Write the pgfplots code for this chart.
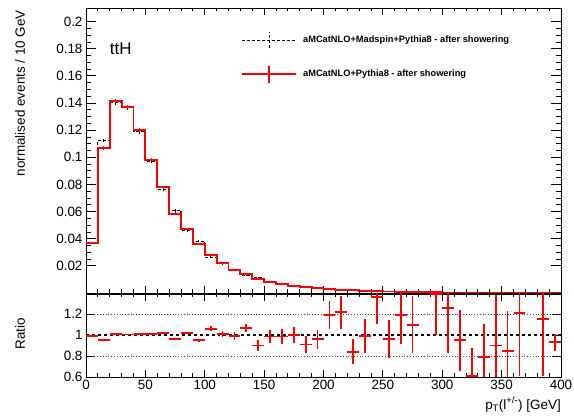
\documentclass[border=0pt]{standalone}
\usepackage{fontspec}
\setmainfont{Liberation Sans}
\usepackage{pgfplots}
\usepackage{pgfplotstable}
\pgfplotsset{compat=1.18}

\pgfplotstableread{
edge red black
0 0.0366 0.0370
10 0.1070 0.1124
20 0.1416 0.1402
30 0.1372 0.1365
40 0.1200 0.1188
50 0.0982 0.0972
60 0.0780 0.0765
70 0.0584 0.0608
80 0.0471 0.0462
90 0.0363 0.0382
100 0.0280 0.0264
110 0.0219 0.0217
120 0.0172 0.0174
130 0.0138 0.0130
140 0.0103 0.0114
150 0.0083 0.0084
160 0.0064 0.0065
170 0.0054 0.0054
180 0.0044 0.0048
190 0.0035 0.0036
200 0.0029 0.0024
210 0.0024 0.0020
220 0.0020 0.0024
230 0.0016 0.0016
240 0.0013 0.00095
250 0.0011 0.00115
260 0.0009 0.00076
270 0.0008 0.00073
280 0.0006 0.0006
290 0.0005 0.00036
300 0.0004 0.00032
310 0.00035 0.00037
320 0.0003 0.00049
330 0.00025 0.00032
340 0.0002 0.00022
350 0.00018 0.00021
360 0.00015 0.00012
370 0.00013 0.00013
380 0.00011 0.000095
390 0.0001 0.000108
400 0.0001 0.000108
}\hist

\pgfplotstableread{
c red rerr black berr
5 0.0366 0.0008 0.0370 0.0008
15 0.1070 0.0013 0.1124 0.0013
25 0.1416 0.0015 0.1402 0.0015
35 0.1372 0.0015 0.1365 0.0015
45 0.1200 0.0014 0.1188 0.0014
55 0.0982 0.0013 0.0972 0.0013
65 0.0780 0.0011 0.0765 0.0011
75 0.0584 0.0010 0.0608 0.0010
85 0.0471 0.0009 0.0462 0.0009
95 0.0363 0.0008 0.0382 0.0008
105 0.0280 0.0007 0.0264 0.0007
115 0.0219 0.0006 0.0217 0.0006
125 0.0172 0.0006 0.0174 0.0006
135 0.0138 0.0005 0.0130 0.0005
145 0.0103 0.0005 0.0114 0.0005
155 0.0083 0.0004 0.0084 0.0004
}\pts

\pgfplotstableread{
c ratio err
5 0.990 0.012
15 0.952 0.010
25 1.010 0.008
35 1.005 0.008
45 1.010 0.008
55 1.010 0.010
65 1.020 0.010
75 0.960 0.012
85 1.020 0.013
95 0.950 0.015
105 1.060 0.025
115 1.010 0.030
125 0.990 0.035
135 1.065 0.040
145 0.900 0.055
155 0.985 0.065
165 0.985 0.070
175 1.000 0.080
185 0.910 0.080
195 0.960 0.090
205 1.190 0.130
215 1.215 0.155
225 0.840 0.120
235 0.990 0.165
245 1.365 0.260
255 0.960 0.180
265 1.190 0.280
275 1.097 0.270
295 1.387 0.390
305 1.254 0.430
315 0.950 0.290
325 0.610 0.270
335 0.790 0.310
345 0.900 0.480
355 0.850 0.380
365 1.210 0.600
385 1.155 0.550
395 0.930 0.080
}\ratio

\pgfplotsset{
  legblack/.style={legend image code/.code={
    \draw[black, densely dashed, line width=1.1bp] (0bp,0bp) -- (54bp,0bp);
    \draw[black, densely dashed, line width=1.1bp] (27bp,-8bp) -- (27bp,8bp);
    \path[draw=none] (0bp,0bp) -- (59bp,0bp);}},
  legred/.style={legend image code/.code={
    \draw[red, line width=1.8bp] (0bp,0bp) -- (54bp,0bp);
    \draw[red, line width=1.8bp] (27bp,-8.5bp) -- (27bp,8.5bp);
    \path[draw=none] (0bp,0bp) -- (59bp,0bp);}},
}

\begin{document}
\begin{tikzpicture}
\path[use as bounding box] (0bp,0bp) rectangle (574bp,416bp);
\pgfplotsset{
  every axis/.append style={
    scale only axis, width=475bp, anchor=south west,
    xmin=0, xmax=400,
    axis line style={line width=0.9bp},
    every tick/.style={black, line width=0.8bp},
    major tick length=10bp, minor tick length=5bp,
    xtick style={/pgfplots/major tick length=7bp, /pgfplots/minor tick length=3.5bp},
    tick label style={font=\fontsize{13.5}{15}\selectfont},
    label style={font=\fontsize{13.5}{15}\selectfont, inner sep=0pt},
    /pgf/number format/assume math mode=true,
    xtick={0,50,...,400}, minor x tick num=4,
    clip=true,
  }
}
\begin{axis}[
  at={(86bp,123bp)}, height=285bp,
  ymin=0, ymax=0.21,
  ytick={0.02,0.04,0.06,0.08,0.1,0.12,0.14,0.16,0.18,0.2},
  yticklabels={0.02,0.04,0.06,0.08,0.1,0.12,0.14,0.16,0.18,0.2},
  minor y tick num=3,
  xticklabels={},
  ylabel={normalised events / 10 GeV},
  ylabel style={at={(axis description cs:-0.128,0.993)}, anchor=south east},
  legend style={at={(axis description cs:0.3265,0.918)}, anchor=north west, draw=none, fill=none,
    font=\bfseries\fontsize{9.3}{10}\selectfont, row sep=16bp, inner sep=0pt},
  legend cell align=left,
]
\addlegendimage{legblack}
\addlegendentry{aMCatNLO+Madspin+Pythia8 - after showering}
\addlegendimage{legred}
\addlegendentry{aMCatNLO+Pythia8 - after showering}

\addplot[black, densely dashed, line width=1.1bp, const plot, forget plot] table[x=edge, y=black] {\hist};
\addplot[black, line width=0.7bp, draw=none, mark=none, forget plot,
  error bars/y dir=both, error bars/y explicit, error bars/error mark=none,
  error bars/error bar style={black, solid, line width=0.7bp}] table[x=c, y=black, y error=berr] {\pts};
\addplot[red, line width=1.9bp, const plot, forget plot] table[x=edge, y=red] {\hist};
\addplot[red, line width=1.0bp, draw=none, mark=none, forget plot,
  error bars/y dir=both, error bars/y explicit, error bars/error mark=none,
  error bars/error bar style={red, solid, line width=1.0bp}] table[x=c, y=red, y error=rerr] {\pts};
\node[anchor=west, inner sep=0pt, font=\fontsize{17}{19}\selectfont] at (rel axis cs:0.05,0.856) {ttH};
\end{axis}

\begin{axis}[
  at={(86bp,39bp)}, height=83bp,
  ymin=0.6, ymax=1.39,
  ytick={0.6,0.8,1,1.2},
  yticklabels={0.6,0.8,1,1.2},
  ytick style={/pgfplots/major tick length=8bp},
  xticklabels={0,50,100,150,200,250,300,350,400},
  ylabel={Ratio},
  ylabel style={at={(axis description cs:-0.128,0.711)}, anchor=south east},
  xlabel={p\textsubscript{T}(l\textsuperscript{+/-}) [GeV]},
  xlabel style={at={(axis description cs:1.0,-0.386)}, anchor=base east},
]
\addplot[black!70, dotted, line width=0.8bp] coordinates {(0,1.2) (400,1.2)};
\addplot[black!70, dotted, line width=0.8bp] coordinates {(0,0.8) (400,0.8)};
\addplot[black, dashed, line width=1.2bp] coordinates {(0,1) (400,1)};
\addplot[red, line width=1.8bp, draw=none, mark=none,
  error bars/x dir=both, error bars/x fixed=5,
  error bars/error mark=none,
  error bars/error bar style={red, solid, line width=1.8bp}] table[x=c, y=ratio] {\ratio};
\addplot[red, line width=1.8bp, draw=none, mark=none,
  error bars/y dir=both, error bars/y explicit,
  error bars/error mark=none,
  error bars/error bar style={draw=red, solid, line width=1.8bp}] table[x=c, y=ratio, y error=err] {\ratio};
\end{axis}
\end{tikzpicture}
\end{document}
